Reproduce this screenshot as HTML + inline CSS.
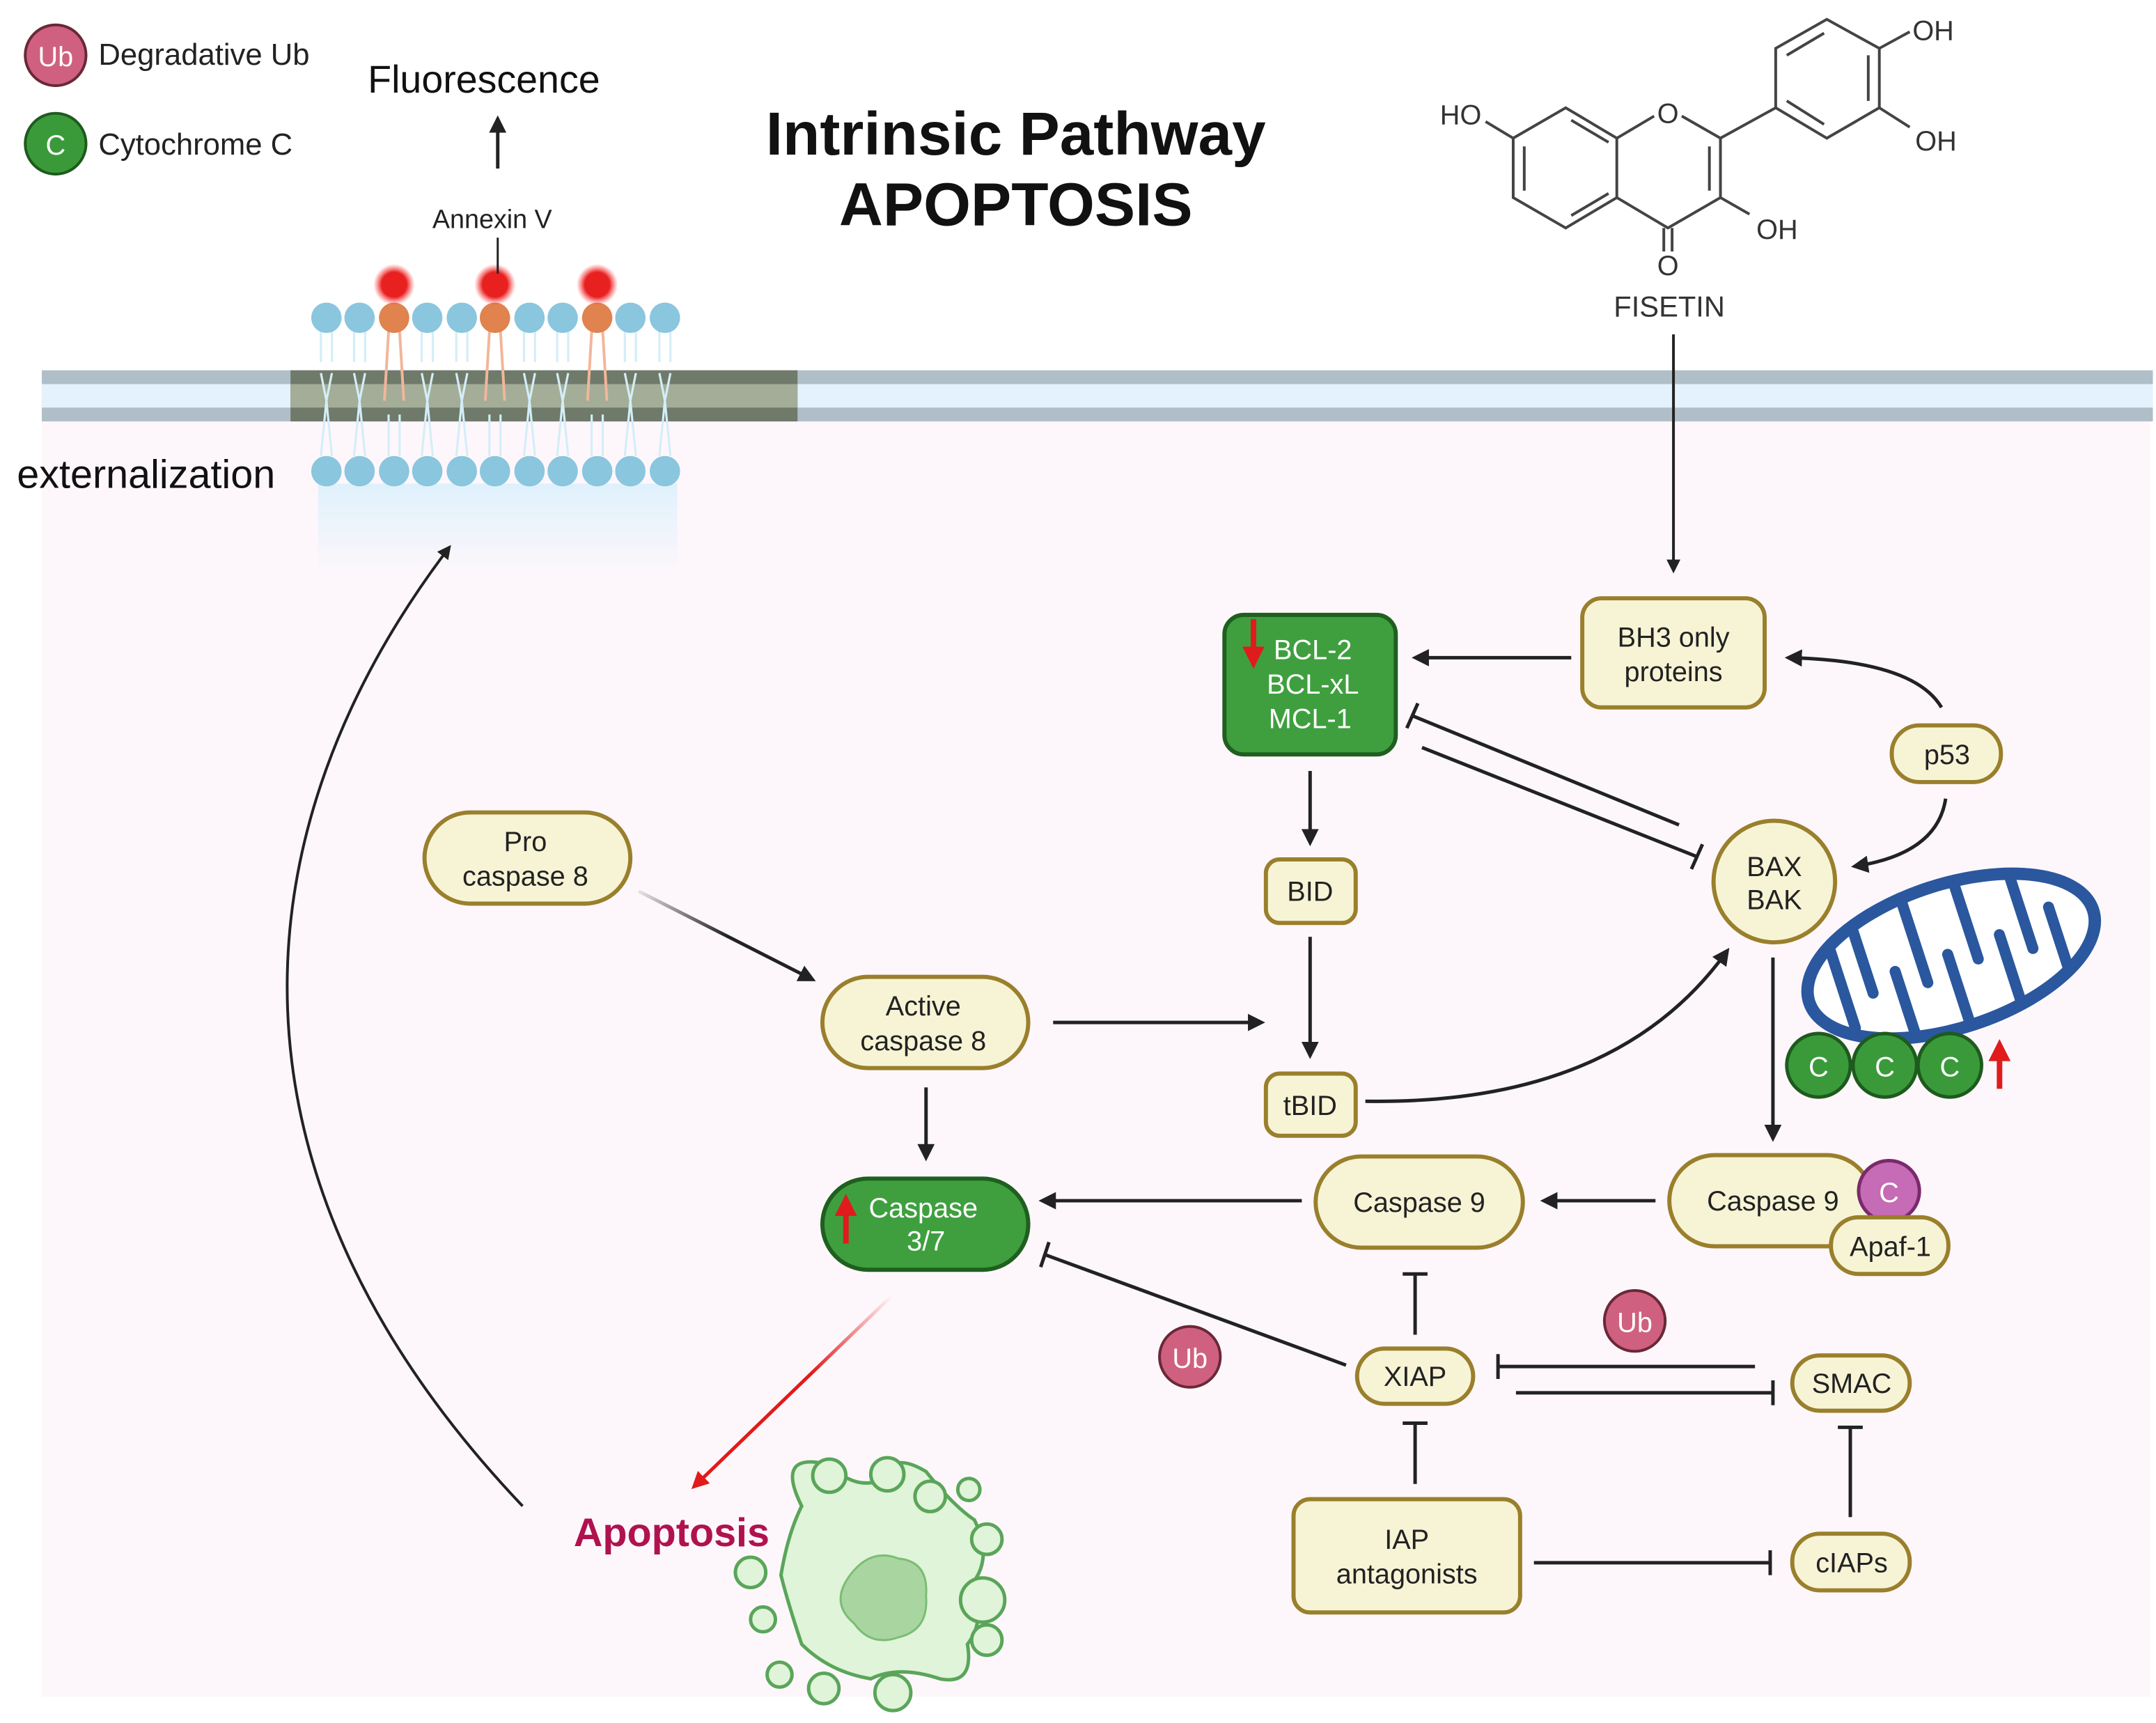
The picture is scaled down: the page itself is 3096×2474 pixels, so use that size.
<!DOCTYPE html>
<html><head><meta charset="utf-8"><style>
html,body{margin:0;padding:0;background:#fff;}
svg{display:block;}
text{font-family:"Liberation Sans",sans-serif;}
</style></head><body>
<svg width="3096" height="2474" viewBox="0 0 1560 1247" xmlns="http://www.w3.org/2000/svg">
<defs>
<marker id="ah" viewBox="0 0 10 10" refX="8" refY="5" markerWidth="5" markerHeight="5" orient="auto-start-reverse" markerUnits="strokeWidth"><path d="M0,0 L10,5 L0,10 z" fill="#222"/></marker>
<marker id="ar" viewBox="0 0 10 10" refX="8" refY="5" markerWidth="5" markerHeight="5" orient="auto" markerUnits="strokeWidth"><path d="M0,0 L10,5 L0,10 z" fill="#e01b1b"/></marker>
<linearGradient id="rg" x1="645" y1="938" x2="500" y2="1078" gradientUnits="userSpaceOnUse"><stop offset="0" stop-color="#e01b1b" stop-opacity="0"/><stop offset="0.4" stop-color="#e01b1b"/></linearGradient>
<linearGradient id="gg" x1="462" y1="645" x2="590" y2="710" gradientUnits="userSpaceOnUse"><stop offset="0" stop-color="#222" stop-opacity="0.1"/><stop offset="0.5" stop-color="#222"/></linearGradient>
<linearGradient id="bg" x1="0" y1="0" x2="0" y2="1"><stop offset="0" stop-color="#dff1fd"/><stop offset="1" stop-color="#dff1fd" stop-opacity="0"/></linearGradient>
<radialGradient id="glow"><stop offset="0.6" stop-color="#e82020"/><stop offset="1" stop-color="#ff4040" stop-opacity="0"/></radialGradient>
</defs>
<rect x="0" y="0" width="1560" height="1247" fill="#fff"/>
<rect x="30" y="305" width="1526" height="923" fill="#fdf7fb"/>
<!-- membrane -->
<rect x="30" y="268" width="1528" height="37" fill="#b0bec8"/>
<rect x="30" y="278" width="1528" height="17" fill="#e3f2fd"/>
<rect x="210" y="268" width="367" height="37" fill="#6f7a6a"/>
<rect x="210" y="278" width="367" height="17" fill="#a3ad98"/>
<rect x="230" y="350" width="260" height="65" fill="url(#bg)"/>
<g id="lipids">
<g stroke="#d4eef8" stroke-width="1.6" fill="none">
<path d="M232,240 L232,262 M240,240 L240,262 M256,240 L256,262 M264,240 L264,262 M305,240 L305,262 M313,240 L313,262 M330,240 L330,262 M338,240 L338,262 M379,240 L379,262 M387,240 L387,262 M403,240 L403,262 M411,240 L411,262 M452,240 L452,262 M460,240 L460,262 M477,240 L477,262 M485,240 L485,262"/>
<path d="M232,270 L236,290 L232,330 M240,270 L236,290 L240,330 M256,270 L260,290 L256,330 M264,270 L260,290 L264,330 M281,300 L281,330 M289,300 L289,330 M305,270 L309,290 L305,330 M313,270 L309,290 L313,330 M330,270 L334,290 L330,330 M338,270 L334,290 L338,330 M354,300 L354,330 M362,300 L362,330 M379,270 L383,290 L379,330 M387,270 L383,290 L387,330 M403,270 L407,290 L403,330 M411,270 L407,290 L411,330 M428,300 L428,330 M436,300 L436,330 M452,270 L456,290 L452,330 M460,270 L456,290 L460,330 M477,270 L481,290 L477,330 M485,270 L481,290 L485,330"/>
</g>
<g stroke="#f2b69a" stroke-width="2" fill="none">
<path d="M281,240 L278,290 M289,240 L292,290 M354,240 L351,290 M362,240 L365,290 M428,240 L425,290 M436,240 L439,290"/>
</g>
<g fill="#8ac6de">
<circle cx="236" cy="230" r="11"/><circle cx="260" cy="230" r="11"/><circle cx="309" cy="230" r="11"/><circle cx="334" cy="230" r="11"/><circle cx="383" cy="230" r="11"/><circle cx="407" cy="230" r="11"/><circle cx="456" cy="230" r="11"/><circle cx="481" cy="230" r="11"/>
<circle cx="236" cy="341" r="11"/><circle cx="260" cy="341" r="11"/><circle cx="285" cy="341" r="11"/><circle cx="309" cy="341" r="11"/><circle cx="334" cy="341" r="11"/><circle cx="358" cy="341" r="11"/><circle cx="383" cy="341" r="11"/><circle cx="407" cy="341" r="11"/><circle cx="432" cy="341" r="11"/><circle cx="456" cy="341" r="11"/><circle cx="481" cy="341" r="11"/>
</g>
<g fill="#e0834f"><circle cx="285" cy="230" r="11"/><circle cx="358" cy="230" r="11"/><circle cx="432" cy="230" r="11"/></g>
<g fill="url(#glow)"><circle cx="285" cy="206" r="15"/><circle cx="358" cy="206" r="15"/><circle cx="432" cy="206" r="15"/></g>
</g>
<line x1="360" y1="172" x2="360" y2="198" stroke="#222" stroke-width="1.5"/>
<text x="356" y="165" font-size="19" text-anchor="middle" fill="#222">Annexin V</text>
<line x1="360" y1="122" x2="360" y2="86" stroke="#222" stroke-width="2.5" marker-end="url(#ah)"/>
<text x="350" y="67" font-size="28" text-anchor="middle" fill="#111">Fluorescence</text>
<text x="12" y="353" font-size="29" fill="#111">externalization</text>
<!-- legend -->
<circle cx="40" cy="40" r="22" fill="#d0607f" stroke="#6a2838" stroke-width="2"/>
<text x="40" y="48" font-size="20" fill="#fff" text-anchor="middle">Ub</text>
<text x="71" y="47" font-size="22" fill="#222">Degradative Ub</text>
<circle cx="40" cy="104" r="22" fill="#3a9a3a" stroke="#1e5a1e" stroke-width="2"/>
<text x="40" y="112" font-size="20" fill="#fff" text-anchor="middle">C</text>
<text x="71" y="112" font-size="22" fill="#222">Cytochrome C</text>
<!-- title -->
<text x="735" y="112" font-size="44" font-weight="bold" text-anchor="middle" fill="#111">Intrinsic Pathway</text>
<text x="735" y="163" font-size="44" font-weight="bold" text-anchor="middle" fill="#111">APOPTOSIS</text>
<!-- fisetin -->
<g stroke="#444" stroke-width="2" fill="none">
<path d="M1095,100 L1133,78 L1170,100 L1170,143 L1133,165 L1095,143 Z"/>
<path d="M1103,106 L1103,138 M1137,87 L1164,103 M1137,156 L1164,140"/>
<path d="M1170,100 L1197,84 M1217,84 L1245,100 L1245,143 L1207,165 L1170,143"/>
<path d="M1237,106 L1237,138"/>
<path d="M1204,165 L1204,182 M1210,165 L1210,182"/>
<path d="M1245,143 L1266,155"/>
<path d="M1245,100 L1285,78"/>
<path d="M1285,78 L1285,35 L1322,14 L1360,35 L1360,78 L1322,100 Z"/>
<path d="M1293,40 L1320,24 M1352,40 L1352,73 M1293,73 L1320,90"/>
<path d="M1360,35 L1382,23 M1360,78 L1382,92 M1095,100 L1075,88"/>
</g>
<g font-size="20" fill="#333" text-anchor="middle">
<text x="1057" y="90">HO</text><text x="1207" y="89">O</text><text x="1399" y="29">OH</text><text x="1401" y="109">OH</text><text x="1286" y="173">OH</text><text x="1207" y="199">O</text>
</g>
<text x="1208" y="229" font-size="21" fill="#333" text-anchor="middle">FISETIN</text>
<line x1="1211" y1="242" x2="1211" y2="413" stroke="#222" stroke-width="2" marker-end="url(#ah)"/>
<!-- connectors -->
<g stroke="#222" stroke-width="2.5" fill="none">
<line x1="1137" y1="476" x2="1024" y2="476" marker-end="url(#ah)"/>
<path d="M1405,512 Q1385,478 1294,476" marker-end="url(#ah)"/>
<path d="M1408,578 Q1402,618 1342,627" marker-end="url(#ah)"/>
<line x1="1215" y1="597" x2="1022" y2="518"/><line x1="1018" y1="527" x2="1026" y2="509"/>
<line x1="1029" y1="541" x2="1228" y2="620"/><line x1="1224" y1="629" x2="1232" y2="611"/>
<line x1="948" y1="558" x2="948" y2="610" marker-end="url(#ah)"/>
<line x1="948" y1="678" x2="948" y2="764" marker-end="url(#ah)"/>
<line x1="762" y1="740" x2="913" y2="740" marker-end="url(#ah)"/>
<path d="M988,797 Q1170,800 1250,688" marker-end="url(#ah)"/>
<line x1="670" y1="787" x2="670" y2="838" marker-end="url(#ah)"/>
<line x1="1283" y1="693" x2="1283" y2="824" marker-end="url(#ah)"/>
<line x1="1198" y1="869" x2="1117" y2="869" marker-end="url(#ah)"/>
<line x1="942" y1="869" x2="754" y2="869" marker-end="url(#ah)"/>
<line x1="974" y1="988" x2="756" y2="908"/><line x1="753" y1="917" x2="759" y2="899"/>
<line x1="1024" y1="966" x2="1024" y2="922"/><line x1="1015" y1="922" x2="1033" y2="922"/>
<line x1="1270" y1="989" x2="1084" y2="989"/><line x1="1084" y1="980" x2="1084" y2="998"/>
<line x1="1097" y1="1008" x2="1283" y2="1008"/><line x1="1283" y1="999" x2="1283" y2="1017"/>
<line x1="1024" y1="1074" x2="1024" y2="1030"/><line x1="1015" y1="1030" x2="1033" y2="1030"/>
<line x1="1110" y1="1131" x2="1281" y2="1131"/><line x1="1281" y1="1122" x2="1281" y2="1140"/>
<line x1="1339" y1="1098" x2="1339" y2="1033"/><line x1="1330" y1="1033" x2="1348" y2="1033"/>
<path d="M378,1090 C150,850 170,600 325,396" stroke-width="2" marker-end="url(#ah)"/>
</g>
<line x1="462" y1="645" x2="588" y2="709" stroke="url(#gg)" stroke-width="2.5" marker-end="url(#ah)"/>
<line x1="645" y1="938" x2="502" y2="1076" stroke="url(#rg)" stroke-width="2.5" marker-end="url(#ar)"/>
<!-- nodes -->
<g fill="#f7f4d6" stroke="#9a7f2c" stroke-width="3">
<rect x="1145" y="433" width="132" height="79" rx="14"/>
<rect x="1369" y="525" width="79" height="41" rx="20"/>
<circle cx="1284" cy="638" r="44"/>
<rect x="916" y="622" width="65" height="46" rx="10"/>
<rect x="916" y="777" width="65" height="45" rx="10"/>
<rect x="307" y="588" width="149" height="66" rx="33"/>
<rect x="595" y="707" width="149" height="66" rx="33"/>
<rect x="952" y="837" width="150" height="66" rx="33"/>
<rect x="1208" y="836" width="147" height="66" rx="33"/>
<rect x="982" y="976" width="84" height="40" rx="20"/>
<rect x="1297" y="981" width="85" height="40" rx="20"/>
<rect x="936" y="1085" width="164" height="82" rx="12"/>
<rect x="1297" y="1110" width="85" height="41" rx="20"/>
</g>
<circle cx="1367" cy="862" r="22" fill="#c66bb5" stroke="#7a2a6a" stroke-width="2.5"/>
<text x="1367" y="870" font-size="20" fill="#fff" text-anchor="middle">C</text>
<rect x="1325" y="881" width="85" height="41" rx="20" fill="#f7f4d6" stroke="#9a7f2c" stroke-width="3"/>
<rect x="886" y="445" width="124" height="101" rx="14" fill="#3f9f3f" stroke="#1f5f1f" stroke-width="3"/>
<rect x="595" y="853" width="149" height="66" rx="33" fill="#3f9f3f" stroke="#1f5f1f" stroke-width="3"/>
<g font-size="20" fill="#222" text-anchor="middle">
<text x="1211" y="468">BH3 only</text><text x="1211" y="493">proteins</text>
<text x="1409" y="553">p53</text>
<text x="1284" y="634">BAX</text><text x="1284" y="658">BAK</text>
<text x="948" y="652">BID</text><text x="948" y="807">tBID</text>
<text x="380" y="616">Pro</text><text x="380" y="641">caspase 8</text>
<text x="668" y="735">Active</text><text x="668" y="760">caspase 8</text>
<text x="1027" y="877">Caspase 9</text>
<text x="1283" y="876">Caspase 9</text>
<text x="1368" y="909">Apaf-1</text>
<text x="1024" y="1003">XIAP</text>
<text x="1340" y="1008">SMAC</text>
<text x="1018" y="1121">IAP</text><text x="1018" y="1146">antagonists</text>
<text x="1340" y="1138">cIAPs</text>
</g>
<g font-size="20" fill="#fff" text-anchor="middle">
<text x="950" y="477">BCL-2</text><text x="950" y="502">BCL-xL</text><text x="948" y="527">MCL-1</text>
<text x="668" y="881">Caspase</text><text x="670" y="905">3/7</text>
</g>
<path d="M907,448 L907,470" stroke="#e01b1b" stroke-width="4"/><path d="M899,468 L915,468 L907,484 Z" fill="#e01b1b"/>
<path d="M612,900 L612,878" stroke="#e01b1b" stroke-width="4"/><path d="M604,880 L620,880 L612,864 Z" fill="#e01b1b"/>
<!-- Ub -->
<circle cx="861" cy="982" r="22" fill="#d0607f" stroke="#6a2838" stroke-width="2"/><text x="861" y="990" font-size="20" fill="#fff" text-anchor="middle">Ub</text>
<circle cx="1183" cy="956" r="22" fill="#d0607f" stroke="#6a2838" stroke-width="2"/><text x="1183" y="964" font-size="20" fill="#fff" text-anchor="middle">Ub</text>
<!-- mitochondrion -->
<g transform="rotate(-18 1412 692)">
<ellipse cx="1412" cy="692" rx="108" ry="52" fill="#fff" stroke="#2a579e" stroke-width="9"/>
<g stroke="#2a579e" stroke-width="8" fill="none" stroke-linecap="round">
<path d="M1330,660 L1330,720 M1350,650 L1350,700 M1370,690 L1370,738 M1390,645 L1390,705 M1410,690 L1410,742 M1430,645 L1430,700 M1450,688 L1450,738 M1470,650 L1470,705 M1490,680 L1490,725"/>
</g></g>
<g fill="#3a9a3a" stroke="#1e5a1e" stroke-width="2.5">
<circle cx="1316" cy="771" r="23"/><circle cx="1364" cy="771" r="23"/><circle cx="1411" cy="771" r="23"/></g>
<g font-size="20" fill="#fff" text-anchor="middle"><text x="1316" y="779">C</text><text x="1364" y="779">C</text><text x="1411" y="779">C</text></g>
<path d="M1447,788 L1447,766" stroke="#e01b1b" stroke-width="4"/><path d="M1439,768 L1455,768 L1447,752 Z" fill="#e01b1b"/>
<!-- apoptosis -->
<text x="415" y="1119" font-size="29" font-weight="bold" fill="#b0124f">Apoptosis</text>
<g stroke="#5aa55a" stroke-width="2.5" fill="#dff4d8">
<path d="M580,1090 Q560,1050 600,1060 Q620,1080 640,1070 Q645,1050 670,1065 Q690,1090 705,1100 Q720,1130 700,1150 Q715,1170 700,1190 Q705,1220 680,1215 Q650,1205 630,1215 Q600,1210 580,1190 Q570,1160 565,1140 Q570,1110 580,1090 Z"/>
<circle cx="600" cy="1068" r="12"/><circle cx="642" cy="1067" r="12"/><circle cx="673" cy="1083" r="11"/><circle cx="701" cy="1078" r="8"/><circle cx="714" cy="1114" r="11"/><circle cx="543" cy="1138" r="11"/><circle cx="711" cy="1158" r="16"/><circle cx="714" cy="1187" r="11"/><circle cx="552" cy="1172" r="9"/><circle cx="564" cy="1212" r="9"/><circle cx="596" cy="1222" r="11"/><circle cx="646" cy="1225" r="13"/>
</g>
<path d="M615,1140 Q630,1120 650,1128 Q672,1130 670,1155 Q672,1180 650,1185 Q630,1192 618,1175 Q600,1160 615,1140 Z" fill="#a9d6a0" stroke="#7bbd74" stroke-width="1.5"/>
</svg>
</body></html>
